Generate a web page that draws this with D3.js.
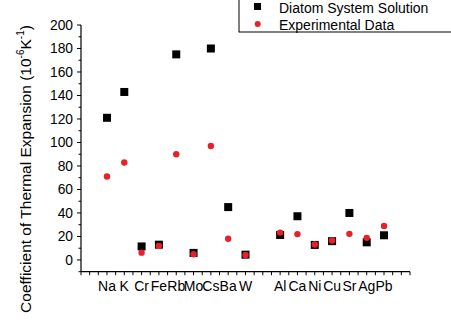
<!DOCTYPE html>
<html><head><meta charset="utf-8">
<script src="https://cdn.jsdelivr.net/npm/d3@7"></script>
<style>
body{margin:0;background:#fff;}
svg{display:block;font-family:"Liberation Sans",Arial,sans-serif;}
</style></head>
<body>
<svg id="c" width="451" height="327"></svg>
<script>
const categories = ["Na","K","Cr","Fe","Rb","Mo","Cs","Ba","W","Al","Ca","Ni","Cu","Sr","Ag","Pb"];
const positions  = [1,2,3,4,5,6,7,8,9,11,12,13,14,15,16,17];
const diatom     = [121,143,11.5,13,175,6,180,45,4.5,21.3,37.2,12.8,16,40,15,21];
const experiment = [71,83,6.2,12,90,4.8,97,18,4.3,23.3,22,13.1,16.5,22.2,18.8,29];
const yTicks     = [0,20,40,60,80,100,120,140,160,180,200];
const seriesNames = ["Diatom System Solution","Experimental Data"];

const svg = d3.select("#c");
const x = d3.scaleLinear().domain([-0.5,18.5]).range([81,410]);
const y = d3.scaleLinear().domain([-10,200]).range([271.7,25]);

// axes
const xTickVals = d3.range(-0.5,18.51,0.5);
const gx = svg.append("g").attr("transform","translate(0,271.7)");
gx.append("line").attr("x1",81).attr("x2",410).attr("stroke","#000").attr("stroke-width",1.2);
gx.selectAll("line.t").data(xTickVals).join("line").attr("class","t")
  .attr("x1",d=>x(d)).attr("x2",d=>x(d)).attr("y1",0).attr("y2",3.5)
  .attr("stroke","#000").attr("stroke-width",1);
gx.selectAll("text").data(categories).join("text")
  .attr("x",(d,i)=>x(positions[i])).attr("y",19.5)
  .attr("text-anchor","middle").attr("font-size",14).attr("fill","#000").text(d=>d);

const gy = svg.append("g").attr("transform","translate(81,0)");
gy.append("line").attr("y1",y(-10)).attr("y2",y(200)).attr("stroke","#000").attr("stroke-width",1.2);
gy.selectAll("line.mi").data(d3.range(-10,200,20)).join("line").attr("class","mi")
  .attr("x1",-2.5).attr("x2",0).attr("y1",d=>y(d)).attr("y2",d=>y(d)).attr("stroke","#000");
gy.selectAll("line.ma").data(yTicks).join("line").attr("class","ma")
  .attr("x1",-4).attr("x2",0).attr("y1",d=>y(d)).attr("y2",d=>y(d)).attr("stroke","#000");
gy.selectAll("text").data(yTicks).join("text")
  .attr("x",-8).attr("y",d=>y(d)).attr("dy","0.36em")
  .attr("text-anchor","end").attr("font-size",13.8).attr("fill","#000").text(d=>d);

// y label
const yl = svg.append("text").attr("transform","translate(30.5,169) rotate(-90)")
  .attr("text-anchor","middle").attr("font-size",15.5).attr("fill","#000");
yl.append("tspan").text("Coefficient of Thermal Expansion (10");
yl.append("tspan").attr("font-size",10).attr("dy",-6.5).text("-6");
yl.append("tspan").attr("dy",6.5).text("K");
yl.append("tspan").attr("font-size",10).attr("dy",-6.5).text("-1");
yl.append("tspan").attr("dy",6.5).text(")");

// data
const s = 8;
svg.append("g").selectAll("rect").data(diatom).join("rect")
  .attr("x",(d,i)=>x(positions[i])-s/2).attr("y",d=>y(d)-s/2)
  .attr("width",s).attr("height",s).attr("fill","#000");
svg.append("g").selectAll("circle").data(experiment).join("circle")
  .attr("cx",(d,i)=>x(positions[i])).attr("cy",d=>y(d)).attr("r",3.2).attr("fill","#e8202a");

// legend
const lg = svg.append("g");
lg.append("rect").attr("x",239).attr("y",-5).attr("width",230).attr("height",37)
  .attr("fill","#fff").attr("stroke","#000").attr("stroke-width",1);
lg.append("rect").attr("x",254).attr("y",3).attr("width",7).attr("height",7).attr("fill","#000");
lg.append("circle").attr("cx",257.7).attr("cy",24).attr("r",3).attr("fill","#e8202a");
lg.selectAll("text").data(seriesNames).join("text")
  .attr("x",279).attr("y",(d,i)=>12.5+i*17.5)
  .attr("font-size",14).attr("fill","#000").text(d=>d);
</script>
</body></html>
